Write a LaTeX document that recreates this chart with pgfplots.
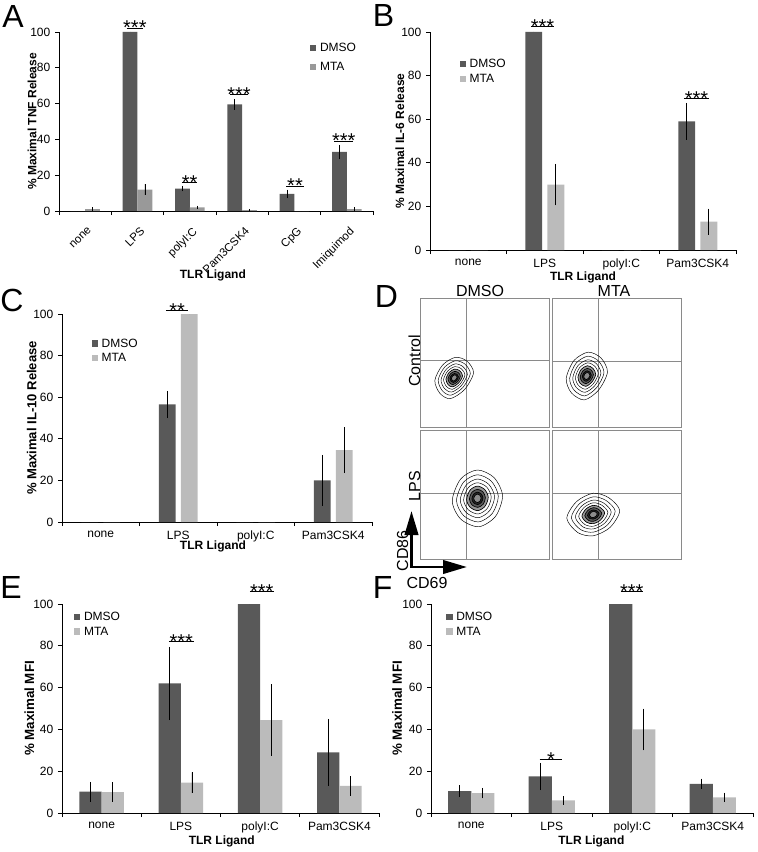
\documentclass[border=0pt]{standalone}
\usepackage{pgfplots}
\usepackage{pgfplotstable}
\pgfplotsset{compat=1.18}
\usepackage{fontspec}
\setmainfont{Liberation Sans}
\usetikzlibrary{arrows.meta}
\definecolor{dmso}{HTML}{595959}
\definecolor{mtaA}{HTML}{999999}
\definecolor{mta}{HTML}{BBBBBB}
\definecolor{gate}{HTML}{8A8A8A}

\pgfplotstableread{
xd xm dmso de mta me
0.359 0.641 0 0 1 1
1.359 1.641 100 0 12 3
2.359 2.641 12.5 1.5 2 1
3.359 3.641 59.5 3 0.5 0.5
4.359 4.641 9.5 2.5 0 0
5.359 5.641 33 4 1 1
}\tabA
\pgfplotstableread{
xd xm dmso de mta me
0.356 0.644 0 0 0 0
1.356 1.644 100 0 30 9.5
2.356 2.644 0 0 0 0
3.356 3.644 59 8.5 13 6
}\tabB
\pgfplotstableread{
xd xm dmso de mta me
0.358 0.642 0 0 0 0
1.358 1.642 56.5 6.5 100 0
2.358 2.642 0 0 0 0
3.358 3.642 20 12.3 34.5 11
}\tabC
\pgfplotstableread{
xd xm dmso de mta me
0.36 0.64 10.2 4.7 10 4.7
1.36 1.64 62 17.5 14.5 5
2.36 2.64 100 0 44.5 17
3.36 3.64 29 16 13 4.7
}\tabE
\pgfplotstableread{
xd xm dmso de mta me
0.357 0.643 10.5 2.8 9.5 2.5
1.357 1.643 17.5 6.5 6 2
2.357 2.643 100 0 40 10
3.357 3.643 14 2.5 7.5 2.3
}\tabF

\tikzset{
  sigstar/.style={font=\fontsize{15}{15}\selectfont, anchor=base, inner sep=0pt, yshift=-5.2pt},
  sigline/.style={black, line width=0.6pt},
}
\pgfplotsset{
  barax/.style={
    scale only axis, axis lines*=left, clip=false, anchor=south west,
    ymin=0, ymax=100, ytick={0,20,40,60,80,100},
    enlargelimits=false,
    tick align=outside, major tick length=3pt, minor tick length=3pt,
    every tick/.style={black, line width=0.5pt},
    major x tick style={draw=none},
    axis line style={black, line width=0.6pt},
    tick label style={font=\fontsize{9}{10}\selectfont},
    /pgf/number format/assume math mode=true,
    every axis y label/.style={rotate=90, anchor=center, font=\bfseries\fontsize{9}{10}\selectfont},
    every axis x label/.style={anchor=center, font=\bfseries\fontsize{9}{10}\selectfont},
    legend style={draw=none, fill=none, inner sep=0pt, outer sep=0pt, anchor=north west,
      font=\fontsize{9}{10}\selectfont, row sep=1.5pt,
      nodes={inner sep=0.5pt, text height=7pt, text depth=1.5pt},
      /tikz/every odd column/.append style={column sep=2.2pt}},
    legend cell align=left,
    legend image code/.code={\fill[##1] (0pt,-2.4pt) rectangle (4.8pt,2.4pt);},
  },
  bars/.style={ybar, bar shift=0pt, draw=none,
    error bars/y dir=both, error bars/y explicit, error bars/error mark=none,
    error bars/error bar style={black, line width=0.5pt}},
  flowax/.style={scale only axis, anchor=south west, width=96.75pt, height=96.75pt,
    xmin=0, xmax=1, ymin=0, ymax=1, xtick=\empty, ytick=\empty,
    axis line style={gate, line width=0.6pt}},
  contO/.style={smooth cycle, black, line width=0.35pt},
  contI/.style={smooth cycle, draw=black, line width=0.5pt},
}

\begin{document}
\begin{tikzpicture}
\useasboundingbox (0,0) rectangle (567.75pt,-639pt);

% ---------------- A ----------------
\begin{axis}[barax, at={(44.25pt,-158.25pt)}, width=235.5pt, height=134.25pt,
  xmin=0, xmax=6, xtick={0.5,1.5,2.5,3.5,4.5,5.5},
  xticklabels={none,LPS,polyI:C,Pam3CSK4,CpG,Imiquimod},
  minor xtick={0,1,2,3,4,5,6},
  xticklabel style={xshift=1.5pt, yshift=-3.5pt, rotate=45, anchor=north east, font=\fontsize{8.6}{10}\selectfont},
  xlabel={TLR Ligand}, xlabel style={at={(axis description cs:0.49,-0.358)}},
  ylabel={\% Maximal TNF Release}, ylabel style={at={(axis description cs:-0.086,0.5)}},
  legend style={at={(axis cs:4.797,94.6)}, row sep=4.75pt},
]
\addplot[bars, bar width=0.282, fill=dmso] table[x=xd, y=dmso, y error=de] {\tabA};
\addlegendentry{DMSO}
\addplot[bars, bar width=0.282, fill=mtaA] table[x=xm, y=mta, y error=me] {\tabA};
\addlegendentry{MTA}
\draw[sigline] (axis cs:1.29,102.2) -- (axis cs:1.61,102.2);
\node[sigstar] at (axis cs:1.45,102.2) {***};
\draw[sigline] (axis cs:2.35,15.8) -- (axis cs:2.64,15.8);
\node[sigstar] at (axis cs:2.495,15.8) {**};
\draw[sigline] (axis cs:3.27,65.2) -- (axis cs:3.61,65.2);
\node[sigstar] at (axis cs:3.44,65.2) {***};
\draw[sigline] (axis cs:4.34,14) -- (axis cs:4.68,14);
\node[sigstar] at (axis cs:4.51,14) {**};
\draw[sigline] (axis cs:5.26,39.1) -- (axis cs:5.62,39.1);
\node[sigstar] at (axis cs:5.44,39.1) {***};
\end{axis}

% ---------------- B ----------------
\begin{axis}[barax, at={(322.5pt,-187.5pt)}, width=229.5pt, height=163.5pt,
  xmin=0, xmax=4, xtick={0.5,1.5,2.5,3.5},
  xticklabels={none,LPS,polyI:C,Pam3CSK4},
  minor xtick={0,1,2,3,4},
  xlabel={TLR Ligand}, xlabel style={at={(axis description cs:0.5,-0.124)}},
  ylabel={\% Maximal IL-6 Release}, ylabel style={at={(axis description cs:-0.099,0.5)}},
  legend style={at={(axis cs:0.388,88.2)}},
]
\addplot[bars, bar width=0.222, fill=dmso] table[x=xd, y=dmso, y error=de] {\tabB};
\addlegendentry{DMSO}
\addplot[bars, bar width=0.222, fill=mta] table[x=xm, y=mta, y error=me] {\tabB};
\addlegendentry{MTA}
\draw[sigline] (axis cs:1.32,102.4) -- (axis cs:1.62,102.4);
\node[sigstar] at (axis cs:1.47,102.4) {***};
\draw[sigline] (axis cs:3.32,69.6) -- (axis cs:3.65,69.6);
\node[sigstar] at (axis cs:3.485,69.6) {***};
\end{axis}

% ---------------- C ----------------
\begin{axis}[barax, at={(46.5pt,-391.5pt)}, width=232.5pt, height=156pt,
  xmin=0, xmax=4, xtick={0.5,1.5,2.5,3.5},
  xticklabels={none,LPS,polyI:C,Pam3CSK4},
  minor xtick={0,1,2,3,4},
  xlabel={TLR Ligand}, xlabel style={at={(axis description cs:0.487,-0.119)}},
  ylabel={\% Maximal IL-10 Release}, ylabel style={at={(axis description cs:-0.098,0.5)}, font=\bfseries\fontsize{9.8}{10}\selectfont},
  legend style={at={(axis cs:0.383,88.9)}},
]
\addplot[bars, bar width=0.219, fill=dmso] table[x=xd, y=dmso, y error=de] {\tabC};
\addlegendentry{DMSO}
\addplot[bars, bar width=0.219, fill=mta] table[x=xm, y=mta, y error=me] {\tabC};
\addlegendentry{MTA}
\draw[sigline] (axis cs:1.34,101.6) -- (axis cs:1.63,101.6);
\node[sigstar] at (axis cs:1.485,101.6) {**};
\end{axis}

% ---------------- E ----------------
\begin{axis}[barax, at={(46.5pt,-609.75pt)}, width=237.75pt, height=156.75pt,
  xmin=0, xmax=4, xtick={0.5,1.5,2.5,3.5},
  xticklabels={none,LPS,polyI:C,Pam3CSK4},
  minor xtick={0,1,2,3,4},
  xlabel={TLR Ligand}, xlabel style={at={(axis description cs:0.504,-0.137)}},
  ylabel={\% Maximal MFI}, ylabel style={at={(axis description cs:-0.103,0.5)}, font=\bfseries\fontsize{10}{11}\selectfont},
  legend style={at={(axis cs:0.152,96.9)}},
]
\addplot[bars, bar width=0.28, fill=dmso] table[x=xd, y=dmso, y error=de] {\tabE};
\addlegendentry{DMSO}
\addplot[bars, bar width=0.28, fill=mta] table[x=xm, y=mta, y error=me] {\tabE};
\addlegendentry{MTA}
\draw[sigline] (axis cs:1.35,82) -- (axis cs:1.66,82);
\node[sigstar] at (axis cs:1.505,82) {***};
\draw[sigline] (axis cs:2.37,105.9) -- (axis cs:2.67,105.9);
\node[sigstar] at (axis cs:2.52,105.9) {***};
\end{axis}

% ---------------- F ----------------
\begin{axis}[barax, at={(323.25pt,-609.75pt)}, width=241.5pt, height=156.75pt,
  xmin=0, xmax=4, xtick={0.5,1.5,2.5,3.5},
  xticklabels={none,LPS,polyI:C,Pam3CSK4},
  minor xtick={0,1,2,3,4},
  xlabel={TLR Ligand}, xlabel style={at={(axis description cs:0.498,-0.137)}},
  ylabel={\% Maximal MFI}, ylabel style={at={(axis description cs:-0.105,0.5)}, font=\bfseries\fontsize{10}{11}\selectfont},
  legend style={at={(axis cs:0.19,96.9)}},
]
\addplot[bars, bar width=0.286, fill=dmso] table[x=xd, y=dmso, y error=de] {\tabF};
\addlegendentry{DMSO}
\addplot[bars, bar width=0.286, fill=mta] table[x=xm, y=mta, y error=me] {\tabF};
\addlegendentry{MTA}
\draw[sigline] (axis cs:1.35,25.7) -- (axis cs:1.63,25.7);
\node[sigstar] at (axis cs:1.49,25.7) {*};
\draw[sigline] (axis cs:2.36,105.9) -- (axis cs:2.63,105.9);
\node[sigstar] at (axis cs:2.495,105.9) {***};
\end{axis}

% ---------------- D: flow panels ----------------
% DMSO / Control
\begin{axis}[flowax, at={(315pt,-320.25pt)}]
\draw[gate, line width=0.6pt] (axis cs:0.362,0) -- (axis cs:0.362,1);
\draw[gate, line width=0.6pt] (axis cs:0,0.514) -- (axis cs:1,0.514);
\addplot[contO] coordinates {(0.415,0.42)(0.365,0.51)(0.275,0.54)(0.175,0.48)(0.115,0.36)(0.155,0.26)(0.235,0.22)(0.345,0.29)};
\addplot[contO] coordinates {(0.390,0.413)(0.348,0.488)(0.273,0.513)(0.190,0.463)(0.141,0.363)(0.174,0.280)(0.240,0.247)(0.331,0.305)};
\addplot[contO] coordinates {(0.367,0.407)(0.333,0.468)(0.272,0.489)(0.204,0.448)(0.163,0.366)(0.190,0.298)(0.245,0.271)(0.319,0.319)};
\addplot[contO] coordinates {(0.348,0.402)(0.320,0.452)(0.271,0.468)(0.216,0.435)(0.183,0.369)(0.205,0.314)(0.249,0.292)(0.309,0.331)};
\addplot[contI, fill=black!40] coordinates {(0.330,0.397)(0.308,0.436)(0.269,0.449)(0.226,0.423)(0.201,0.371)(0.218,0.328)(0.252,0.311)(0.299,0.341)};
\addplot[contI, fill=black!65] coordinates {(0.313,0.393)(0.297,0.422)(0.268,0.431)(0.236,0.412)(0.217,0.374)(0.230,0.342)(0.255,0.329)(0.291,0.351)};
\addplot[contI, fill=black!85] coordinates {(0.298,0.389)(0.287,0.409)(0.267,0.415)(0.245,0.402)(0.232,0.376)(0.241,0.354)(0.258,0.345)(0.283,0.360)};
\addplot[contI, fill=black!45] coordinates {(0.288,0.386)(0.280,0.400)(0.267,0.404)(0.252,0.395)(0.243,0.377)(0.249,0.362)(0.261,0.356)(0.277,0.367)};
\end{axis}
% MTA / Control
\begin{axis}[flowax, at={(414pt,-320.25pt)}]
\draw[gate, line width=0.6pt] (axis cs:0.357,0) -- (axis cs:0.357,1);
\draw[gate, line width=0.6pt] (axis cs:0,0.509) -- (axis cs:1,0.509);
\addplot[contO] coordinates {(0.430,0.425)(0.380,0.535)(0.280,0.580)(0.170,0.515)(0.110,0.375)(0.150,0.265)(0.250,0.210)(0.360,0.285)};
\addplot[contO] coordinates {(0.403,0.420)(0.361,0.511)(0.278,0.549)(0.187,0.495)(0.137,0.378)(0.170,0.287)(0.253,0.241)(0.345,0.304)};
\addplot[contO] coordinates {(0.379,0.415)(0.345,0.490)(0.277,0.521)(0.202,0.477)(0.161,0.381)(0.188,0.307)(0.256,0.269)(0.331,0.320)};
\addplot[contO] coordinates {(0.358,0.412)(0.331,0.472)(0.276,0.497)(0.215,0.461)(0.182,0.384)(0.204,0.324)(0.259,0.293)(0.320,0.335)};
\addplot[contI, fill=black!40] coordinates {(0.339,0.408)(0.317,0.455)(0.274,0.475)(0.227,0.447)(0.201,0.386)(0.218,0.339)(0.261,0.315)(0.309,0.348)};
\addplot[contI, fill=black!65] coordinates {(0.321,0.405)(0.305,0.440)(0.273,0.454)(0.238,0.433)(0.219,0.389)(0.232,0.353)(0.264,0.336)(0.299,0.360)};
\addplot[contI, fill=black!85] coordinates {(0.305,0.402)(0.294,0.426)(0.272,0.436)(0.248,0.421)(0.235,0.391)(0.244,0.366)(0.266,0.354)(0.290,0.371)};
\addplot[contI, fill=black!45] coordinates {(0.294,0.400)(0.287,0.416)(0.272,0.423)(0.255,0.413)(0.246,0.392)(0.252,0.376)(0.267,0.367)(0.284,0.379)};
\end{axis}
% DMSO / LPS
\begin{axis}[flowax, at={(315pt,-419.25pt)}]
\draw[gate, line width=0.6pt] (axis cs:0.362,0) -- (axis cs:0.362,1);
\draw[gate, line width=0.6pt] (axis cs:0,0.508) -- (axis cs:1,0.508);
\addplot[contO] coordinates {(0.640,0.490)(0.575,0.630)(0.445,0.690)(0.315,0.620)(0.250,0.450)(0.315,0.310)(0.455,0.250)(0.585,0.330)};
\addplot[contO] coordinates {(0.607,0.487)(0.553,0.603)(0.445,0.653)(0.337,0.595)(0.283,0.453)(0.337,0.337)(0.453,0.287)(0.561,0.354)};
\addplot[contO] coordinates {(0.578,0.484)(0.533,0.579)(0.445,0.620)(0.357,0.572)(0.312,0.456)(0.357,0.361)(0.452,0.320)(0.540,0.375)};
\addplot[contO] coordinates {(0.552,0.481)(0.517,0.558)(0.445,0.591)(0.374,0.553)(0.338,0.459)(0.374,0.382)(0.451,0.349)(0.522,0.393)};
\addplot[contI, fill=black!40] coordinates {(0.529,0.479)(0.501,0.539)(0.445,0.565)(0.389,0.535)(0.361,0.461)(0.389,0.401)(0.449,0.375)(0.505,0.410)};
\addplot[contI, fill=black!65] coordinates {(0.507,0.476)(0.487,0.521)(0.445,0.540)(0.403,0.518)(0.383,0.464)(0.403,0.419)(0.448,0.400)(0.490,0.425)};
\addplot[contI, fill=black!85] coordinates {(0.488,0.474)(0.474,0.505)(0.445,0.518)(0.416,0.503)(0.402,0.466)(0.416,0.435)(0.447,0.422)(0.476,0.439)};
\addplot[contI, fill=black!45] coordinates {(0.474,0.473)(0.465,0.494)(0.445,0.503)(0.426,0.493)(0.416,0.467)(0.426,0.446)(0.447,0.437)(0.466,0.449)};
\end{axis}
% MTA / LPS
\begin{axis}[flowax, at={(414pt,-419.25pt)}]
\draw[gate, line width=0.6pt] (axis cs:0.357,0) -- (axis cs:0.357,1);
\draw[gate, line width=0.6pt] (axis cs:0,0.508) -- (axis cs:1,0.508);
\addplot[contO] coordinates {(0.525,0.375)(0.440,0.475)(0.320,0.510)(0.190,0.445)(0.115,0.315)(0.200,0.205)(0.320,0.180)(0.450,0.245)};
\addplot[contO] coordinates {(0.490,0.370)(0.420,0.453)(0.320,0.482)(0.212,0.428)(0.150,0.320)(0.220,0.229)(0.320,0.208)(0.428,0.262)};
\addplot[contO] coordinates {(0.459,0.365)(0.402,0.433)(0.320,0.457)(0.232,0.413)(0.181,0.325)(0.238,0.250)(0.320,0.233)(0.408,0.277)};
\addplot[contO] coordinates {(0.433,0.362)(0.386,0.417)(0.320,0.436)(0.249,0.400)(0.207,0.329)(0.254,0.268)(0.320,0.254)(0.392,0.290)};
\addplot[contI, fill=black!40] coordinates {(0.408,0.358)(0.372,0.401)(0.320,0.416)(0.264,0.388)(0.232,0.332)(0.268,0.285)(0.320,0.274)(0.376,0.302)};
\addplot[contI, fill=black!65] coordinates {(0.386,0.355)(0.358,0.387)(0.320,0.398)(0.278,0.377)(0.254,0.335)(0.282,0.300)(0.320,0.292)(0.362,0.313)};
\addplot[contI, fill=black!85] coordinates {(0.365,0.352)(0.346,0.374)(0.320,0.381)(0.291,0.367)(0.275,0.338)(0.294,0.314)(0.320,0.309)(0.349,0.323)};
\addplot[contI, fill=black!45] coordinates {(0.351,0.350)(0.338,0.365)(0.320,0.370)(0.301,0.360)(0.289,0.341)(0.302,0.324)(0.320,0.320)(0.340,0.330)};
\end{axis}

% ---------------- labels and letters ----------------
\begin{scope}[x=0.75pt, y=-0.75pt]
\node[anchor=base west, inner sep=0pt, font=\fontsize{24}{24}\selectfont] at (2,28) {A};
\node[anchor=base west, inner sep=0pt, font=\fontsize{24}{24}\selectfont] at (372.5,27) {B};
\node[anchor=base west, inner sep=0pt, font=\fontsize{24}{24}\selectfont] at (0,311.5) {C};
\node[anchor=base west, inner sep=0pt, font=\fontsize{24}{24}\selectfont] at (374.5,307) {D};
\node[anchor=base west, inner sep=0pt, font=\fontsize{24}{24}\selectfont] at (0,598) {E};
\node[anchor=base west, inner sep=0pt, font=\fontsize{24}{24}\selectfont] at (372.5,598) {F};
\node[anchor=base, inner sep=0pt, font=\fontsize{12}{12}\selectfont] at (480,296.5) {DMSO};
\node[anchor=base, inner sep=0pt, font=\fontsize{12}{12}\selectfont] at (614,296.5) {MTA};
\node[anchor=base, rotate=90, inner sep=0pt, font=\fontsize{12}{12}\selectfont] at (420,361) {Control};
\node[anchor=base, rotate=90, inner sep=0pt, font=\fontsize{12}{12}\selectfont] at (420,486) {LPS};
\node[anchor=base, rotate=90, inner sep=0pt, font=\fontsize{12}{12}\selectfont] at (408,551) {CD86};
\node[anchor=base, inner sep=0pt, font=\fontsize{12}{12}\selectfont] at (427,588) {CD69};
\draw[line width=2.2pt, {Triangle[length=18pt,width=10pt]}-{Triangle[length=18pt,width=10pt]}]
  (411.5,511) -- (411.5,567) -- (467,567);
\end{scope}
\end{tikzpicture}
\end{document}
